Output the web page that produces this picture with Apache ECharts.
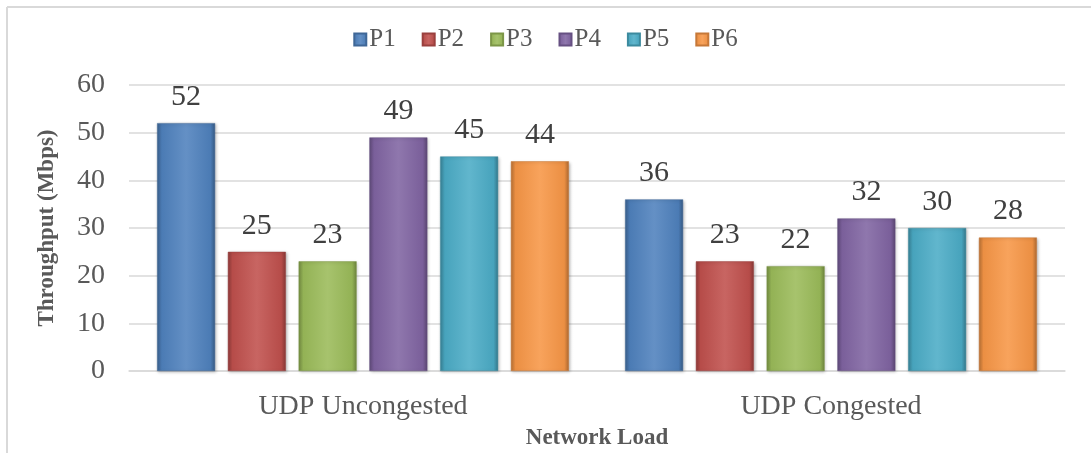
<!DOCTYPE html>
<html>
<head>
<meta charset="utf-8">
<title>Throughput by Network Load</title>
<script src="https://cdn.jsdelivr.net/npm/echarts@6/dist/echarts.min.js"></script>
<style>
  html, body { margin: 0; padding: 0; background: #ffffff; }
  #chart { width: 1091px; height: 453px; }
</style>
</head>
<body>
<div id="chart"></div>
<script>
// Network load scenarios on the category axis
const categories = ['UDP Uncongested', 'UDP Congested'];

// Throughput (Mbps) per protocol variant
const seriesNames = ['P1', 'P2', 'P3', 'P4', 'P5', 'P6'];
const p1 = [52, 36];
const p2 = [25, 23];
const p3 = [23, 22];
const p4 = [49, 32];
const p5 = [45, 30];
const p6 = [44, 28];
const seriesValues = [p1, p2, p3, p4, p5, p6];

// Value axis ticks
const yTicks = [0, 10, 20, 30, 40, 50, 60];

const palette = ['#4f81bd', '#c0504d', '#9bbb59', '#8064a2', '#4bacc6', '#f79646'];

function shade(hex, amt) {
  const n = parseInt(hex.slice(1), 16);
  let r = (n >> 16) & 255, g = (n >> 8) & 255, b = n & 255;
  const f = v => Math.max(0, Math.min(255, Math.round(amt >= 0 ? v + (255 - v) * amt : v * (1 + amt))));
  return 'rgb(' + f(r) + ',' + f(g) + ',' + f(b) + ')';
}

// Bevelled bar fill: darker rims, brighter centre
function bevel(hex) {
  return new echarts.graphic.LinearGradient(0, 0, 1, 0, [
    { offset: 0, color: shade(hex, -0.25) },
    { offset: 0.08, color: shade(hex, -0.05) },
    { offset: 0.5, color: shade(hex, 0.12) },
    { offset: 0.92, color: shade(hex, -0.05) },
    { offset: 1, color: shade(hex, -0.3) }
  ]);
}

const serif = '"Liberation Serif", "Times New Roman", serif';

const chart = echarts.init(document.getElementById('chart'), null, { renderer: 'canvas' });

chart.setOption({
  animation: false,
  backgroundColor: '#ffffff',
  color: palette,
  graphic: [
    { type: 'line', shape: { x1: 7, y1: 7, x2: 1091, y2: 7 }, style: { stroke: '#d9d9d9', lineWidth: 2 } },
    { type: 'line', shape: { x1: 7, y1: 7, x2: 7, y2: 453 }, style: { stroke: '#d9d9d9', lineWidth: 2 } }
  ],
  legend: {
    data: seriesNames,
    top: 22,
    left: 'center',
    itemWidth: 12,
    itemHeight: 12,
    itemGap: 26,
    icon: 'rect',
    textStyle: { fontFamily: serif, fontSize: 25, color: '#595959', padding: [0, 0, 0, -2] }
  },
  grid: { left: 129, right: 26, top: 85, bottom: 82, outerBoundsMode: 'none' },
  xAxis: {
    type: 'category',
    data: categories,
    name: 'Network Load',
    nameLocation: 'middle',
    nameGap: 56,
    nameTextStyle: { fontFamily: serif, fontSize: 23, fontWeight: 'bold', color: '#595959' },
    axisLine: { lineStyle: { color: '#d9d9d9', width: 1.5 } },
    axisTick: { show: false },
    axisLabel: { fontFamily: serif, fontSize: 28, color: '#595959', margin: 22 }
  },
  yAxis: {
    type: 'value',
    min: yTicks[0],
    max: yTicks[yTicks.length - 1],
    interval: yTicks[1] - yTicks[0],
    name: 'Throughput (Mbps)',
    nameLocation: 'middle',
    nameGap: 70,
    nameTextStyle: { fontFamily: serif, fontSize: 23, fontWeight: 'bold', color: '#595959' },
    axisLine: { show: false },
    axisTick: { show: false },
    axisLabel: { fontFamily: serif, fontSize: 28, color: '#595959', margin: 24 },
    splitLine: { lineStyle: { color: '#d9d9d9', width: 1.5 } }
  },
  series: seriesNames.map((name, i) => ({
    name: name,
    type: 'bar',
    data: seriesValues[i],
    barWidth: 58,
    barGap: '22%',
    itemStyle: {
      color: bevel(palette[i]),
      borderColor: shade(palette[i], -0.2),
      borderWidth: 0.5,
      shadowBlur: 3,
      shadowColor: 'rgba(0,0,0,0.25)',
      shadowOffsetX: 1,
      shadowOffsetY: 1
    },
    label: {
      show: true,
      position: 'top',
      distance: 11,
      fontFamily: serif,
      fontSize: 30,
      color: '#404040'
    }
  }))
});
</script>
</body>
</html>
